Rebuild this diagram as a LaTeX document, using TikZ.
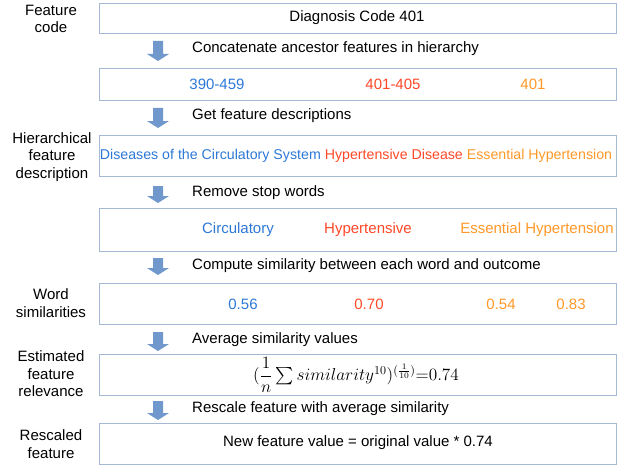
\documentclass[tikz,border=0pt]{standalone}
\usepackage{amsmath}
\usepackage{fontspec}
\setmainfont{Liberation Sans}
\definecolor{cblue}{RGB}{45,120,215}
\definecolor{cred}{RGB}{255,72,40}
\definecolor{corange}{RGB}{255,152,40}
\definecolor{boxline}{RGB}{165,185,212}
\definecolor{arrowfill}{RGB}{112,152,204}
\newcommand{\dnarrow}[2]{%
  \fill[arrowfill] (153,#1) -- (163,#1) -- (163,#2-7) -- (169,#2-7) -- (158,#2) -- (147,#2-7) -- (153,#2-7) -- cycle;}
\begin{document}
\begin{tikzpicture}[x=1pt,y=-1pt,
  box/.style={draw=boxline, line width=1.1pt, rectangle, anchor=north west, minimum width=517pt, inner sep=0pt},
  txt/.style={font=\fontsize{15}{17.5}\selectfont, inner sep=0pt},
  lbl/.style={font=\fontsize{15}{17.5}\selectfont, align=center, inner sep=0pt},
  steptxt/.style={font=\fontsize{15}{17.5}\selectfont, anchor=west, inner sep=0pt}]
\useasboundingbox (0,0) rectangle (623,468);
% boxes
\node[box, minimum height=30pt] (b1) at (99,3) {};
\node[box, minimum height=32pt] (b2) at (99,68) {};
\node[box, minimum height=41pt] (b3) at (99,135) {};
\node[box, minimum height=43pt] (b4) at (99,208) {};
\node[box, minimum height=41pt] (b5) at (99,283) {};
\node[box, minimum height=41pt] (b6) at (99,354) {};
\node[box, minimum height=41pt] (b7) at (99,423) {};
% left labels
\node[lbl] (l1) at (51,19) {Feature\\code};
\node[lbl] (l3) at (52,157) {Hierarchical\\feature\\description};
\node[lbl] (l5) at (51,303) {Word\\similarities};
\node[lbl] (l6) at (51,374) {Estimated\\feature\\relevance};
\node[lbl] (l7) at (51,444) {Rescaled\\feature};
% arrows
\dnarrow{41}{61}
\dnarrow{108}{128}
\dnarrow{186}{203}
\dnarrow{258}{275}
\dnarrow{332}{351}
\dnarrow{401}{420}
% step texts
\node[steptxt] (s1) at (192,49) {Concatenate ancestor features in hierarchy};
\node[steptxt] (s2) at (192,116) {Get feature descriptions};
\node[steptxt] (s3) at (192,193) {Remove stop words};
\node[steptxt] (s4) at (192,266) {Compute similarity between each word and outcome};
\node[steptxt] (s5) at (192,340) {Average similarity values};
\node[steptxt] (s6) at (192,409) {Rescale feature with average similarity};
% box contents
\node[txt] (t1) at (357,18) {Diagnosis Code 401};
\node[txt, text=cblue] (t2a) at (217,84) {390-459};
\node[txt, text=cred] (t2b) at (393,84) {401-405};
\node[txt, text=corange] (t2c) at (533,84) {401};
\node[txt, font=\fontsize{14.2}{17}\selectfont] (t3) at (356,156) {\textcolor{cblue}{Diseases of the Circulatory System} \textcolor{cred}{Hypertensive Disease} \textcolor{corange}{Essential Hypertension}};
\node[txt, text=cblue] (t4a) at (238,230) {Circulatory};
\node[txt, text=cred] (t4b) at (368,230) {Hypertensive};
\node[txt, text=corange] (t4c) at (537,230) {Essential Hypertension};
\node[txt, text=cblue] (t5a) at (243,304) {0.56};
\node[txt, text=cred] (t5b) at (369,304) {0.70};
\node[txt, text=corange] (t5c) at (501,304) {0.54};
\node[txt, text=corange] (t5d) at (571,304) {0.83};
\node[inner sep=0pt, font=\fontsize{14.4}{17}\selectfont, scale=1.2] (t6) at (356,375) {$(\dfrac{1}{n}\sum similarity^{10})^{(\frac{1}{10})}{=}0.74$};
\node[txt] (t7) at (358,443) {New feature value = original value * 0.74};
\end{tikzpicture}
\end{document}
